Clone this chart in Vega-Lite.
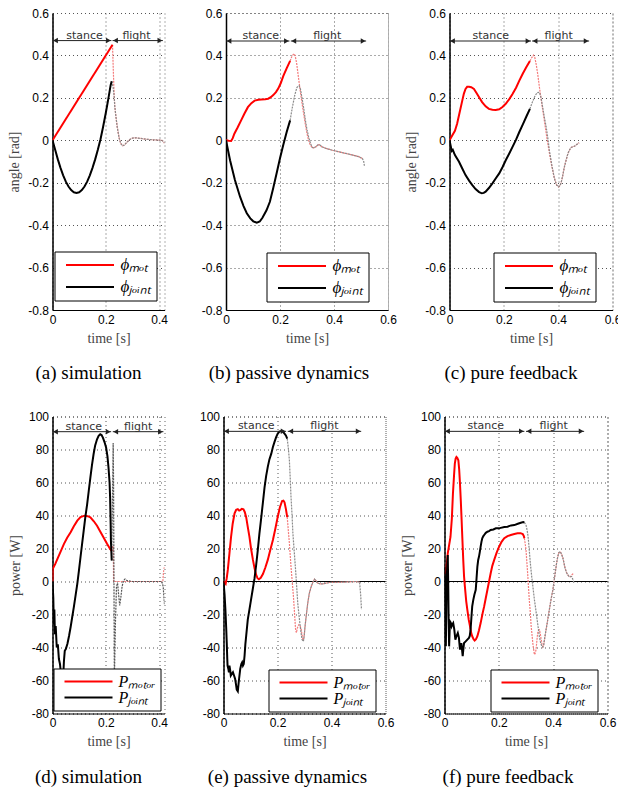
{
"$schema":"https://vega.github.io/schema/vega-lite/v6.json",
"padding":{"left":6.5,"top":6,"right":5,"bottom":5},
"config":{
 "font":"Liberation Sans",
 "view":{"stroke":"#666","strokeDash":[1,3]},
 "axis":{"labelFont":"Liberation Sans","labelFontSize":12,"labelColor":"#000","titleFont":"Liberation Serif","titleFontSize":14,"titleFontWeight":"normal","titleColor":"#444","gridDash":[1,3],"gridColor":"#555","gridOpacity":1,"ticks":false,"domainColor":"#000","labelPadding":4,"labelFlush":false,"labelOverlap":false,"labelBound":false},
 "axisY":{"domainWidth":1.5,"titlePadding":6},
 "axisX":{"titlePadding":6},
 "legend":{"strokeColor":"#000","fillColor":"#fff","padding":5,"symbolType":"M-4,0H4","symbolSize":144,"symbolStrokeWidth":2,"symbolOffset":22,"labelOffset":22,"labelFont":"Liberation Serif","labelFontStyle":"italic","labelFontSize":17,"labelColor":"#000","rowPadding":4},
 "title":{"font":"Liberation Serif","fontSize":19,"fontWeight":"normal","color":"#000","orient":"bottom","offset":19,"anchor":"middle"}
},
"datasets":{
"A1":[{"t":0,"v":0,"s":"m"},{"t":0.225,"v":0.45,"s":"m"},
{"t":0,"v":0,"s":"j"},{"t":0.01,"v":-0.045,"s":"j"},{"t":0.02,"v":-0.09,"s":"j"},{"t":0.03,"v":-0.13,"s":"j"},{"t":0.04,"v":-0.165,"s":"j"},{"t":0.05,"v":-0.195,"s":"j"},{"t":0.06,"v":-0.218,"s":"j"},{"t":0.07,"v":-0.235,"s":"j"},{"t":0.08,"v":-0.245,"s":"j"},{"t":0.09,"v":-0.248,"s":"j"},{"t":0.1,"v":-0.245,"s":"j"},{"t":0.11,"v":-0.235,"s":"j"},{"t":0.12,"v":-0.218,"s":"j"},{"t":0.13,"v":-0.195,"s":"j"},{"t":0.14,"v":-0.165,"s":"j"},{"t":0.15,"v":-0.13,"s":"j"},{"t":0.16,"v":-0.09,"s":"j"},{"t":0.17,"v":-0.045,"s":"j"},{"t":0.18,"v":0.005,"s":"j"},{"t":0.19,"v":0.065,"s":"j"},{"t":0.2,"v":0.13,"s":"j"},{"t":0.21,"v":0.2,"s":"j"},{"t":0.218,"v":0.26,"s":"j"},{"t":0.222,"v":0.278,"s":"j"}],
"A2":[{"t":0.225,"v":0.45,"g":"m"},{"t":0.228,"v":0.33,"g":"m"},{"t":0.231,"v":0.22,"g":"m"},{"t":0.2335,"v":0.16,"g":"m"},{"t":0.238,"v":0.11,"g":"m"},{"t":0.243,"v":0.06,"g":"m"},{"t":0.25,"v":0.01,"g":"m"},{"t":0.256,"v":-0.015,"g":"m"},{"t":0.263,"v":-0.026,"g":"m"},{"t":0.27,"v":-0.022,"g":"m"},{"t":0.28,"v":-0.008,"g":"m"},{"t":0.29,"v":0.004,"g":"m"},{"t":0.3,"v":0.01,"g":"m"},{"t":0.31,"v":0.012,"g":"m"},{"t":0.33,"v":0.009,"g":"m"},{"t":0.35,"v":0.005,"g":"m"},{"t":0.38,"v":0.002,"g":"m"},{"t":0.41,"v":0,"g":"m"},{"t":0.415,"v":-0.005,"g":"m"},{"t":0.42,"v":-0.013,"g":"m"},
{"t":0.222,"v":0.278,"g":"j"},{"t":0.227,"v":0.25,"g":"j"},{"t":0.231,"v":0.21,"g":"j"},{"t":0.2335,"v":0.16,"g":"j"},{"t":0.238,"v":0.11,"g":"j"},{"t":0.243,"v":0.06,"g":"j"},{"t":0.25,"v":0.01,"g":"j"},{"t":0.256,"v":-0.015,"g":"j"},{"t":0.263,"v":-0.026,"g":"j"},{"t":0.27,"v":-0.022,"g":"j"},{"t":0.28,"v":-0.008,"g":"j"},{"t":0.29,"v":0.004,"g":"j"},{"t":0.3,"v":0.01,"g":"j"},{"t":0.31,"v":0.012,"g":"j"},{"t":0.33,"v":0.009,"g":"j"},{"t":0.35,"v":0.005,"g":"j"},{"t":0.38,"v":0.002,"g":"j"},{"t":0.41,"v":0,"g":"j"},{"t":0.415,"v":-0.005,"g":"j"},{"t":0.42,"v":-0.013,"g":"j"}],
"B1":[{"t":0,"v":0,"s":"m"},{"t":0.01,"v":-0.002,"s":"m"},{"t":0.019,"v":-0.003,"s":"m"},{"t":0.025,"v":0.01,"s":"m"},{"t":0.031,"v":0.031,"s":"m"},{"t":0.043,"v":0.06,"s":"m"},{"t":0.056,"v":0.094,"s":"m"},{"t":0.068,"v":0.125,"s":"m"},{"t":0.081,"v":0.156,"s":"m"},{"t":0.094,"v":0.175,"s":"m"},{"t":0.106,"v":0.187,"s":"m"},{"t":0.12,"v":0.191,"s":"m"},{"t":0.131,"v":0.192,"s":"m"},{"t":0.145,"v":0.193,"s":"m"},{"t":0.156,"v":0.196,"s":"m"},{"t":0.166,"v":0.203,"s":"m"},{"t":0.175,"v":0.213,"s":"m"},{"t":0.185,"v":0.227,"s":"m"},{"t":0.194,"v":0.245,"s":"m"},{"t":0.203,"v":0.27,"s":"m"},{"t":0.212,"v":0.302,"s":"m"},{"t":0.225,"v":0.34,"s":"m"},{"t":0.2375,"v":0.374,"s":"m"},
{"t":0,"v":0,"s":"j"},{"t":0.015,"v":-0.094,"s":"j"},{"t":0.033,"v":-0.1875,"s":"j"},{"t":0.052,"v":-0.266,"s":"j"},{"t":0.065,"v":-0.31,"s":"j"},{"t":0.077,"v":-0.344,"s":"j"},{"t":0.09,"v":-0.368,"s":"j"},{"t":0.101,"v":-0.382,"s":"j"},{"t":0.114,"v":-0.388,"s":"j"},{"t":0.125,"v":-0.383,"s":"j"},{"t":0.135,"v":-0.365,"s":"j"},{"t":0.15,"v":-0.33,"s":"j"},{"t":0.1625,"v":-0.29,"s":"j"},{"t":0.175,"v":-0.225,"s":"j"},{"t":0.1875,"v":-0.155,"s":"j"},{"t":0.2,"v":-0.085,"s":"j"},{"t":0.2125,"v":-0.02,"s":"j"},{"t":0.225,"v":0.04,"s":"j"},{"t":0.2375,"v":0.094,"s":"j"}],
"B2":[{"t":0.2375,"v":0.374,"g":"m"},{"t":0.244,"v":0.395,"g":"m"},{"t":0.251,"v":0.408,"g":"m"},{"t":0.256,"v":0.4,"g":"m"},{"t":0.262,"v":0.36,"g":"m"},{"t":0.268,"v":0.3,"g":"m"},{"t":0.275,"v":0.234,"g":"m"},{"t":0.281,"v":0.18,"g":"m"},{"t":0.2875,"v":0.125,"g":"m"},{"t":0.294,"v":0.075,"g":"m"},{"t":0.3,"v":0.031,"g":"m"},{"t":0.306,"v":0,"g":"m"},{"t":0.3125,"v":-0.023,"g":"m"},{"t":0.319,"v":-0.033,"g":"m"},{"t":0.325,"v":-0.036,"g":"m"},{"t":0.333,"v":-0.03,"g":"m"},{"t":0.34,"v":-0.022,"g":"m"},{"t":0.347,"v":-0.022,"g":"m"},{"t":0.356,"v":-0.031,"g":"m"},{"t":0.37,"v":-0.038,"g":"m"},{"t":0.394,"v":-0.047,"g":"m"},{"t":0.42,"v":-0.055,"g":"m"},{"t":0.444,"v":-0.062,"g":"m"},{"t":0.47,"v":-0.07,"g":"m"},{"t":0.494,"v":-0.078,"g":"m"},{"t":0.506,"v":-0.086,"g":"m"},
{"t":0.2375,"v":0.094,"g":"j"},{"t":0.245,"v":0.15,"g":"j"},{"t":0.255,"v":0.215,"g":"j"},{"t":0.263,"v":0.25,"g":"j"},{"t":0.271,"v":0.257,"g":"j"},{"t":0.276,"v":0.24,"g":"j"},{"t":0.281,"v":0.203,"g":"j"},{"t":0.288,"v":0.15,"g":"j"},{"t":0.294,"v":0.094,"g":"j"},{"t":0.3,"v":0.05,"g":"j"},{"t":0.306,"v":0.016,"g":"j"},{"t":0.312,"v":-0.012,"g":"j"},{"t":0.319,"v":-0.033,"g":"j"},{"t":0.325,"v":-0.036,"g":"j"},{"t":0.333,"v":-0.03,"g":"j"},{"t":0.34,"v":-0.022,"g":"j"},{"t":0.347,"v":-0.022,"g":"j"},{"t":0.356,"v":-0.031,"g":"j"},{"t":0.37,"v":-0.038,"g":"j"},{"t":0.394,"v":-0.047,"g":"j"},{"t":0.42,"v":-0.055,"g":"j"},{"t":0.444,"v":-0.062,"g":"j"},{"t":0.47,"v":-0.07,"g":"j"},{"t":0.494,"v":-0.078,"g":"j"},{"t":0.506,"v":-0.088,"g":"j"},{"t":0.51,"v":-0.1,"g":"j"},{"t":0.5125,"v":-0.12,"g":"j"}],
"C1":[{"t":0,"v":0,"s":"m"},{"t":0.01,"v":0.023,"s":"m"},{"t":0.02,"v":0.045,"s":"m"},{"t":0.028,"v":0.078,"s":"m"},{"t":0.037,"v":0.13,"s":"m"},{"t":0.047,"v":0.187,"s":"m"},{"t":0.053,"v":0.22,"s":"m"},{"t":0.059,"v":0.242,"s":"m"},{"t":0.065,"v":0.252,"s":"m"},{"t":0.072,"v":0.252,"s":"m"},{"t":0.08,"v":0.25,"s":"m"},{"t":0.09,"v":0.242,"s":"m"},{"t":0.1,"v":0.222,"s":"m"},{"t":0.109,"v":0.203,"s":"m"},{"t":0.12,"v":0.18,"s":"m"},{"t":0.133,"v":0.16,"s":"m"},{"t":0.145,"v":0.148,"s":"m"},{"t":0.158,"v":0.144,"s":"m"},{"t":0.17,"v":0.143,"s":"m"},{"t":0.183,"v":0.146,"s":"m"},{"t":0.195,"v":0.157,"s":"m"},{"t":0.207,"v":0.172,"s":"m"},{"t":0.22,"v":0.194,"s":"m"},{"t":0.232,"v":0.218,"s":"m"},{"t":0.245,"v":0.248,"s":"m"},{"t":0.257,"v":0.281,"s":"m"},{"t":0.27,"v":0.315,"s":"m"},{"t":0.283,"v":0.345,"s":"m"},{"t":0.296,"v":0.374,"s":"m"},
{"t":0,"v":0,"s":"j"},{"t":0.005,"v":-0.03,"s":"j"},{"t":0.008,"v":-0.05,"s":"j"},{"t":0.012,"v":-0.045,"s":"j"},{"t":0.02,"v":-0.07,"s":"j"},{"t":0.035,"v":-0.101,"s":"j"},{"t":0.047,"v":-0.133,"s":"j"},{"t":0.059,"v":-0.164,"s":"j"},{"t":0.072,"v":-0.19,"s":"j"},{"t":0.084,"v":-0.211,"s":"j"},{"t":0.096,"v":-0.23,"s":"j"},{"t":0.109,"v":-0.244,"s":"j"},{"t":0.119,"v":-0.25,"s":"j"},{"t":0.126,"v":-0.248,"s":"j"},{"t":0.133,"v":-0.242,"s":"j"},{"t":0.145,"v":-0.225,"s":"j"},{"t":0.158,"v":-0.203,"s":"j"},{"t":0.17,"v":-0.18,"s":"j"},{"t":0.183,"v":-0.156,"s":"j"},{"t":0.195,"v":-0.127,"s":"j"},{"t":0.207,"v":-0.094,"s":"j"},{"t":0.22,"v":-0.062,"s":"j"},{"t":0.232,"v":-0.031,"s":"j"},{"t":0.245,"v":0.003,"s":"j"},{"t":0.257,"v":0.039,"s":"j"},{"t":0.27,"v":0.075,"s":"j"},{"t":0.283,"v":0.112,"s":"j"},{"t":0.296,"v":0.148,"s":"j"}],
"C2":[{"t":0.296,"v":0.374,"g":"m"},{"t":0.303,"v":0.39,"g":"m"},{"t":0.309,"v":0.401,"g":"m"},{"t":0.314,"v":0.39,"g":"m"},{"t":0.319,"v":0.359,"g":"m"},{"t":0.325,"v":0.31,"g":"m"},{"t":0.331,"v":0.25,"g":"m"},{"t":0.34,"v":0.17,"g":"m"},{"t":0.349,"v":0.094,"g":"m"},{"t":0.358,"v":0.015,"g":"m"},{"t":0.368,"v":-0.062,"g":"m"},{"t":0.377,"v":-0.125,"g":"m"},{"t":0.386,"v":-0.179,"g":"m"},{"t":0.394,"v":-0.21,"g":"m"},{"t":0.402,"v":-0.22,"g":"m"},{"t":0.407,"v":-0.213,"g":"m"},{"t":0.411,"v":-0.2,"g":"m"},{"t":0.417,"v":-0.165,"g":"m"},{"t":0.423,"v":-0.125,"g":"m"},{"t":0.43,"v":-0.09,"g":"m"},{"t":0.436,"v":-0.062,"g":"m"},{"t":0.442,"v":-0.045,"g":"m"},{"t":0.448,"v":-0.034,"g":"m"},{"t":0.454,"v":-0.03,"g":"m"},{"t":0.46,"v":-0.028,"g":"m"},{"t":0.468,"v":-0.02,"g":"m"},{"t":0.477,"v":-0.012,"g":"m"},
{"t":0.296,"v":0.148,"g":"j"},{"t":0.305,"v":0.18,"g":"j"},{"t":0.315,"v":0.21,"g":"j"},{"t":0.323,"v":0.225,"g":"j"},{"t":0.331,"v":0.226,"g":"j"},{"t":0.337,"v":0.2,"g":"j"},{"t":0.343,"v":0.156,"g":"j"},{"t":0.349,"v":0.11,"g":"j"},{"t":0.356,"v":0.062,"g":"j"},{"t":0.362,"v":0.01,"g":"j"},{"t":0.368,"v":-0.05,"g":"j"},{"t":0.377,"v":-0.12,"g":"j"},{"t":0.386,"v":-0.179,"g":"j"},{"t":0.394,"v":-0.21,"g":"j"},{"t":0.402,"v":-0.22,"g":"j"},{"t":0.407,"v":-0.213,"g":"j"},{"t":0.411,"v":-0.2,"g":"j"},{"t":0.417,"v":-0.165,"g":"j"},{"t":0.423,"v":-0.125,"g":"j"},{"t":0.43,"v":-0.09,"g":"j"},{"t":0.436,"v":-0.062,"g":"j"},{"t":0.442,"v":-0.045,"g":"j"},{"t":0.448,"v":-0.034,"g":"j"},{"t":0.454,"v":-0.03,"g":"j"},{"t":0.46,"v":-0.028,"g":"j"},{"t":0.468,"v":-0.02,"g":"j"},{"t":0.477,"v":-0.012,"g":"j"}],
"D1":[{"t":0,"v":0,"s":"m"},{"t":0.001,"v":7.7,"s":"m"},{"t":0.01,"v":10.5,"s":"m"},{"t":0.0185,"v":13.7,"s":"m"},{"t":0.03,"v":18,"s":"m"},{"t":0.043,"v":22.8,"s":"m"},{"t":0.055,"v":26.5,"s":"m"},{"t":0.068,"v":29.8,"s":"m"},{"t":0.08,"v":33.5,"s":"m"},{"t":0.093,"v":36.9,"s":"m"},{"t":0.105,"v":39,"s":"m"},{"t":0.12,"v":39.9,"s":"m"},{"t":0.132,"v":39.6,"s":"m"},{"t":0.142,"v":38.9,"s":"m"},{"t":0.155,"v":36.5,"s":"m"},{"t":0.167,"v":33.8,"s":"m"},{"t":0.18,"v":30,"s":"m"},{"t":0.191,"v":26.8,"s":"m"},{"t":0.204,"v":23,"s":"m"},{"t":0.216,"v":19.7,"s":"m"},{"t":0.222,"v":18.5,"s":"m"},
{"t":0,"v":0,"s":"j"},{"t":0.003,"v":-10,"s":"j"},{"t":0.005,"v":-26,"s":"j"},{"t":0.007,"v":-17,"s":"j"},{"t":0.009,"v":-32,"s":"j"},{"t":0.012,"v":-27,"s":"j"},{"t":0.016,"v":-40,"s":"j"},{"t":0.02,"v":-38,"s":"j"},{"t":0.024,"v":-47,"s":"j"},{"t":0.028,"v":-50,"s":"j"},{"t":0.032,"v":-56,"s":"j"},{"t":0.036,"v":-62,"s":"j"},{"t":0.04,"v":-58,"s":"j"},{"t":0.043,"v":-48,"s":"j"},{"t":0.046,"v":-42,"s":"j"},{"t":0.05,"v":-41,"s":"j"},{"t":0.056,"v":-37.7,"s":"j"},{"t":0.062,"v":-33,"s":"j"},{"t":0.068,"v":-27.6,"s":"j"},{"t":0.074,"v":-21.5,"s":"j"},{"t":0.08,"v":-15.5,"s":"j"},{"t":0.087,"v":-8,"s":"j"},{"t":0.093,"v":-1.4,"s":"j"},{"t":0.099,"v":6.5,"s":"j"},{"t":0.105,"v":14.7,"s":"j"},{"t":0.111,"v":22.8,"s":"j"},{"t":0.117,"v":30.8,"s":"j"},{"t":0.123,"v":38.9,"s":"j"},{"t":0.13,"v":46.9,"s":"j"},{"t":0.136,"v":55,"s":"j"},{"t":0.142,"v":63,"s":"j"},{"t":0.148,"v":70.5,"s":"j"},{"t":0.154,"v":77.1,"s":"j"},{"t":0.16,"v":82.5,"s":"j"},{"t":0.167,"v":86.2,"s":"j"},{"t":0.173,"v":88.3,"s":"j"},{"t":0.179,"v":89.2,"s":"j"},{"t":0.184,"v":88.8,"s":"j"},{"t":0.189,"v":87.2,"s":"j"},{"t":0.195,"v":84.5,"s":"j"},{"t":0.201,"v":81.2,"s":"j"},{"t":0.206,"v":76,"s":"j"},{"t":0.21,"v":69.1,"s":"j"},{"t":0.214,"v":60,"s":"j"},{"t":0.216,"v":51,"s":"j"},{"t":0.218,"v":35,"s":"j"},{"t":0.219,"v":24.8,"s":"j"},{"t":0.222,"v":12.7,"s":"j"}],
"D2":[{"t":0.222,"v":18.5,"g":"m"},{"t":0.225,"v":21,"g":"m"},{"t":0.228,"v":21.5,"g":"m"},{"t":0.229,"v":0,"g":"m"},{"t":0.3,"v":0,"g":"m"},{"t":0.41,"v":0,"g":"m"},{"t":0.414,"v":0.5,"g":"m"},{"t":0.416,"v":5,"g":"m"},{"t":0.42,"v":9,"g":"m"},
{"t":0.222,"v":12.7,"g":"j"},{"t":0.2275,"v":84,"g":"j"},{"t":0.229,"v":60,"g":"j"},{"t":0.2305,"v":0,"g":"j"},{"t":0.232,"v":-60,"g":"j"},{"t":0.236,"v":-25,"g":"j"},{"t":0.24,"v":-3,"g":"j"},{"t":0.244,"v":-1,"g":"j"},{"t":0.248,"v":-8,"g":"j"},{"t":0.252,"v":-14.5,"g":"j"},{"t":0.256,"v":-10,"g":"j"},{"t":0.261,"v":-3,"g":"j"},{"t":0.266,"v":0.5,"g":"j"},{"t":0.272,"v":1.5,"g":"j"},{"t":0.28,"v":0.5,"g":"j"},{"t":0.3,"v":0,"g":"j"},{"t":0.41,"v":0,"g":"j"},{"t":0.415,"v":-3,"g":"j"},{"t":0.42,"v":-14,"g":"j"}],
"E1":[{"t":0,"v":0,"s":"m"},{"t":0.004,"v":-0.5,"s":"m"},{"t":0.008,"v":-1.4,"s":"m"},{"t":0.012,"v":2,"s":"m"},{"t":0.016,"v":7,"s":"m"},{"t":0.022,"v":17,"s":"m"},{"t":0.028,"v":27,"s":"m"},{"t":0.034,"v":35,"s":"m"},{"t":0.041,"v":41.3,"s":"m"},{"t":0.047,"v":43.5,"s":"m"},{"t":0.053,"v":43.9,"s":"m"},{"t":0.058,"v":43,"s":"m"},{"t":0.062,"v":43.3,"s":"m"},{"t":0.068,"v":44,"s":"m"},{"t":0.074,"v":43.7,"s":"m"},{"t":0.079,"v":42,"s":"m"},{"t":0.084,"v":39,"s":"m"},{"t":0.09,"v":33,"s":"m"},{"t":0.096,"v":27.2,"s":"m"},{"t":0.102,"v":20,"s":"m"},{"t":0.109,"v":13.1,"s":"m"},{"t":0.115,"v":8,"s":"m"},{"t":0.121,"v":4,"s":"m"},{"t":0.126,"v":2,"s":"m"},{"t":0.131,"v":1.4,"s":"m"},{"t":0.138,"v":2.3,"s":"m"},{"t":0.146,"v":4.5,"s":"m"},{"t":0.155,"v":8.5,"s":"m"},{"t":0.164,"v":13.1,"s":"m"},{"t":0.173,"v":19,"s":"m"},{"t":0.183,"v":25.2,"s":"m"},{"t":0.192,"v":32,"s":"m"},{"t":0.201,"v":39.3,"s":"m"},{"t":0.209,"v":45,"s":"m"},{"t":0.217,"v":48.8,"s":"m"},{"t":0.222,"v":49,"s":"m"},{"t":0.226,"v":48,"s":"m"},{"t":0.231,"v":44,"s":"m"},{"t":0.236,"v":39,"s":"m"},
{"t":0,"v":0,"s":"j"},{"t":0.004,"v":-8,"s":"j"},{"t":0.007,"v":-17,"s":"j"},{"t":0.01,"v":-28,"s":"j"},{"t":0.012,"v":-37,"s":"j"},{"t":0.014,"v":-47,"s":"j"},{"t":0.015,"v":-51,"s":"j"},{"t":0.018,"v":-53,"s":"j"},{"t":0.02,"v":-55,"s":"j"},{"t":0.022,"v":-51,"s":"j"},{"t":0.025,"v":-54,"s":"j"},{"t":0.027,"v":-57,"s":"j"},{"t":0.031,"v":-56,"s":"j"},{"t":0.035,"v":-55,"s":"j"},{"t":0.039,"v":-57,"s":"j"},{"t":0.043,"v":-59,"s":"j"},{"t":0.046,"v":-62,"s":"j"},{"t":0.049,"v":-65.5,"s":"j"},{"t":0.053,"v":-66.5,"s":"j"},{"t":0.057,"v":-60,"s":"j"},{"t":0.062,"v":-53,"s":"j"},{"t":0.066,"v":-50,"s":"j"},{"t":0.069,"v":-49,"s":"j"},{"t":0.072,"v":-51,"s":"j"},{"t":0.075,"v":-50,"s":"j"},{"t":0.078,"v":-45,"s":"j"},{"t":0.081,"v":-38,"s":"j"},{"t":0.084,"v":-33,"s":"j"},{"t":0.09,"v":-23,"s":"j"},{"t":0.096,"v":-17,"s":"j"},{"t":0.102,"v":-11,"s":"j"},{"t":0.108,"v":-5,"s":"j"},{"t":0.115,"v":2,"s":"j"},{"t":0.121,"v":10,"s":"j"},{"t":0.127,"v":19,"s":"j"},{"t":0.133,"v":29,"s":"j"},{"t":0.14,"v":39,"s":"j"},{"t":0.146,"v":48,"s":"j"},{"t":0.152,"v":57,"s":"j"},{"t":0.158,"v":64,"s":"j"},{"t":0.164,"v":69.5,"s":"j"},{"t":0.17,"v":74,"s":"j"},{"t":0.177,"v":77.5,"s":"j"},{"t":0.183,"v":81.5,"s":"j"},{"t":0.189,"v":84.6,"s":"j"},{"t":0.195,"v":87.5,"s":"j"},{"t":0.201,"v":89.6,"s":"j"},{"t":0.207,"v":90.8,"s":"j"},{"t":0.214,"v":91.2,"s":"j"},{"t":0.22,"v":90.8,"s":"j"},{"t":0.226,"v":89.6,"s":"j"},{"t":0.231,"v":88.5,"s":"j"},{"t":0.236,"v":86.6,"s":"j"}],
"E2":[{"t":0.236,"v":39,"g":"m"},{"t":0.24,"v":31,"g":"m"},{"t":0.244,"v":23.2,"g":"m"},{"t":0.25,"v":9,"g":"m"},{"t":0.255,"v":-1,"g":"m"},{"t":0.259,"v":-9,"g":"m"},{"t":0.263,"v":-19,"g":"m"},{"t":0.267,"v":-29.2,"g":"m"},{"t":0.27,"v":-31,"g":"m"},{"t":0.274,"v":-28,"g":"m"},{"t":0.279,"v":-26.2,"g":"m"},{"t":0.284,"v":-27,"g":"m"},{"t":0.288,"v":-29.2,"g":"m"},{"t":0.292,"v":-33.5,"g":"m"},{"t":0.295,"v":-35.5,"g":"m"},{"t":0.298,"v":-34,"g":"m"},{"t":0.302,"v":-27.2,"g":"m"},{"t":0.307,"v":-20,"g":"m"},{"t":0.312,"v":-13.1,"g":"m"},{"t":0.318,"v":-7,"g":"m"},{"t":0.325,"v":-3,"g":"m"},{"t":0.331,"v":-0.5,"g":"m"},{"t":0.337,"v":1.4,"g":"m"},{"t":0.343,"v":0.5,"g":"m"},{"t":0.349,"v":-1,"g":"m"},{"t":0.36,"v":-1.5,"g":"m"},{"t":0.368,"v":-1.4,"g":"m"},{"t":0.393,"v":-0.6,"g":"m"},{"t":0.44,"v":-0.4,"g":"m"},{"t":0.49,"v":0,"g":"m"},{"t":0.504,"v":-0.4,"g":"m"},
{"t":0.236,"v":86.6,"g":"j"},{"t":0.24,"v":81,"g":"j"},{"t":0.244,"v":73.5,"g":"j"},{"t":0.247,"v":63,"g":"j"},{"t":0.25,"v":51.4,"g":"j"},{"t":0.254,"v":40,"g":"j"},{"t":0.257,"v":29.2,"g":"j"},{"t":0.262,"v":18,"g":"j"},{"t":0.267,"v":7,"g":"j"},{"t":0.271,"v":-3,"g":"j"},{"t":0.275,"v":-13.1,"g":"j"},{"t":0.28,"v":-21,"g":"j"},{"t":0.284,"v":-27.2,"g":"j"},{"t":0.288,"v":-32,"g":"j"},{"t":0.291,"v":-35.2,"g":"j"},{"t":0.296,"v":-36.3,"g":"j"},{"t":0.299,"v":-33,"g":"j"},{"t":0.302,"v":-27.2,"g":"j"},{"t":0.307,"v":-20,"g":"j"},{"t":0.312,"v":-13.1,"g":"j"},{"t":0.318,"v":-7,"g":"j"},{"t":0.325,"v":-3,"g":"j"},{"t":0.331,"v":-0.5,"g":"j"},{"t":0.337,"v":1.4,"g":"j"},{"t":0.343,"v":0.5,"g":"j"},{"t":0.349,"v":-1,"g":"j"},{"t":0.36,"v":-1.5,"g":"j"},{"t":0.368,"v":-1.4,"g":"j"},{"t":0.393,"v":-0.6,"g":"j"},{"t":0.44,"v":-0.4,"g":"j"},{"t":0.49,"v":0,"g":"j"},{"t":0.504,"v":-0.4,"g":"j"},{"t":0.508,"v":-8,"g":"j"},{"t":0.511,"v":-17,"g":"j"}],
"F1":[{"t":0,"v":5,"s":"m"},{"t":0.004,"v":5,"s":"m"},{"t":0.008,"v":10,"s":"m"},{"t":0.012,"v":17,"s":"m"},{"t":0.017,"v":22,"s":"m"},{"t":0.022,"v":27,"s":"m"},{"t":0.027,"v":38,"s":"m"},{"t":0.031,"v":53,"s":"m"},{"t":0.035,"v":64,"s":"m"},{"t":0.038,"v":71.5,"s":"m"},{"t":0.041,"v":74.5,"s":"m"},{"t":0.044,"v":75.5,"s":"m"},{"t":0.047,"v":75,"s":"m"},{"t":0.051,"v":73.5,"s":"m"},{"t":0.054,"v":68,"s":"m"},{"t":0.057,"v":59.4,"s":"m"},{"t":0.06,"v":49,"s":"m"},{"t":0.063,"v":37.3,"s":"m"},{"t":0.066,"v":25,"s":"m"},{"t":0.069,"v":13.1,"s":"m"},{"t":0.072,"v":3,"s":"m"},{"t":0.075,"v":-3,"s":"m"},{"t":0.08,"v":-12,"s":"m"},{"t":0.084,"v":-17,"s":"m"},{"t":0.089,"v":-23,"s":"m"},{"t":0.094,"v":-27.2,"s":"m"},{"t":0.098,"v":-31,"s":"m"},{"t":0.102,"v":-33.2,"s":"m"},{"t":0.107,"v":-35,"s":"m"},{"t":0.111,"v":-35.8,"s":"m"},{"t":0.116,"v":-35,"s":"m"},{"t":0.121,"v":-33.2,"s":"m"},{"t":0.127,"v":-29.5,"s":"m"},{"t":0.133,"v":-25.2,"s":"m"},{"t":0.14,"v":-19.5,"s":"m"},{"t":0.146,"v":-15.1,"s":"m"},{"t":0.152,"v":-10,"s":"m"},{"t":0.158,"v":-5,"s":"m"},{"t":0.164,"v":0,"s":"m"},{"t":0.17,"v":5,"s":"m"},{"t":0.176,"v":9.5,"s":"m"},{"t":0.183,"v":13.1,"s":"m"},{"t":0.192,"v":17.5,"s":"m"},{"t":0.201,"v":21.1,"s":"m"},{"t":0.21,"v":24,"s":"m"},{"t":0.22,"v":26.2,"s":"m"},{"t":0.232,"v":27.5,"s":"m"},{"t":0.244,"v":28.2,"s":"m"},{"t":0.257,"v":28.8,"s":"m"},{"t":0.269,"v":29.2,"s":"m"},{"t":0.28,"v":29.3,"s":"m"},{"t":0.288,"v":28.8,"s":"m"},{"t":0.292,"v":27.5,"s":"m"},{"t":0.294,"v":26.2,"s":"m"},
{"t":0,"v":9,"s":"j"},{"t":0.002,"v":-3,"s":"j"},{"t":0.004,"v":-30,"s":"j"},{"t":0.005,"v":-39.3,"s":"j"},{"t":0.007,"v":-10,"s":"j"},{"t":0.009,"v":5,"s":"j"},{"t":0.012,"v":16.1,"s":"j"},{"t":0.014,"v":-5,"s":"j"},{"t":0.015,"v":-21,"s":"j"},{"t":0.017,"v":-39.3,"s":"j"},{"t":0.02,"v":-24.2,"s":"j"},{"t":0.023,"v":-25,"s":"j"},{"t":0.026,"v":-27.2,"s":"j"},{"t":0.029,"v":-26,"s":"j"},{"t":0.032,"v":-25.2,"s":"j"},{"t":0.036,"v":-29,"s":"j"},{"t":0.04,"v":-35.2,"s":"j"},{"t":0.044,"v":-33.2,"s":"j"},{"t":0.049,"v":-31.2,"s":"j"},{"t":0.053,"v":-34,"s":"j"},{"t":0.057,"v":-41.3,"s":"j"},{"t":0.06,"v":-39,"s":"j"},{"t":0.062,"v":-37.3,"s":"j"},{"t":0.065,"v":-42,"s":"j"},{"t":0.067,"v":-45.3,"s":"j"},{"t":0.07,"v":-40,"s":"j"},{"t":0.072,"v":-37.3,"s":"j"},{"t":0.078,"v":-36.3,"s":"j"},{"t":0.084,"v":-35.2,"s":"j"},{"t":0.09,"v":-34.2,"s":"j"},{"t":0.093,"v":-33,"s":"j"},{"t":0.096,"v":-29.2,"s":"j"},{"t":0.099,"v":-22,"s":"j"},{"t":0.102,"v":-15.1,"s":"j"},{"t":0.106,"v":-11.1,"s":"j"},{"t":0.11,"v":-8,"s":"j"},{"t":0.115,"v":-5,"s":"j"},{"t":0.118,"v":2,"s":"j"},{"t":0.121,"v":9,"s":"j"},{"t":0.124,"v":13,"s":"j"},{"t":0.127,"v":15.1,"s":"j"},{"t":0.13,"v":18,"s":"j"},{"t":0.133,"v":21.1,"s":"j"},{"t":0.136,"v":24,"s":"j"},{"t":0.139,"v":26.2,"s":"j"},{"t":0.143,"v":27.5,"s":"j"},{"t":0.146,"v":28.2,"s":"j"},{"t":0.152,"v":29.5,"s":"j"},{"t":0.158,"v":30.2,"s":"j"},{"t":0.164,"v":30.5,"s":"j"},{"t":0.17,"v":31.2,"s":"j"},{"t":0.18,"v":31.5,"s":"j"},{"t":0.189,"v":32.2,"s":"j"},{"t":0.2,"v":32.2,"s":"j"},{"t":0.207,"v":32.5,"s":"j"},{"t":0.22,"v":33,"s":"j"},{"t":0.232,"v":33.2,"s":"j"},{"t":0.245,"v":34,"s":"j"},{"t":0.257,"v":34.2,"s":"j"},{"t":0.27,"v":35,"s":"j"},{"t":0.281,"v":35.6,"s":"j"},{"t":0.29,"v":36,"s":"j"},{"t":0.294,"v":35.8,"s":"j"}],
"F2":[{"t":0.294,"v":26.2,"g":"m"},{"t":0.297,"v":23,"g":"m"},{"t":0.3,"v":19.1,"g":"m"},{"t":0.303,"v":12,"g":"m"},{"t":0.306,"v":5,"g":"m"},{"t":0.309,"v":-3,"g":"m"},{"t":0.312,"v":-11,"g":"m"},{"t":0.316,"v":-19,"g":"m"},{"t":0.319,"v":-27.2,"g":"m"},{"t":0.322,"v":-32,"g":"m"},{"t":0.325,"v":-37.3,"g":"m"},{"t":0.328,"v":-41,"g":"m"},{"t":0.331,"v":-44.3,"g":"m"},{"t":0.334,"v":-43.5,"g":"m"},{"t":0.337,"v":-41.3,"g":"m"},{"t":0.34,"v":-36,"g":"m"},{"t":0.343,"v":-31.2,"g":"m"},{"t":0.346,"v":-29.5,"g":"m"},{"t":0.349,"v":-29.2,"g":"m"},{"t":0.352,"v":-31,"g":"m"},{"t":0.356,"v":-35.2,"g":"m"},{"t":0.359,"v":-38,"g":"m"},{"t":0.362,"v":-39.7,"g":"m"},{"t":0.365,"v":-38.5,"g":"m"},{"t":0.368,"v":-35.2,"g":"m"},{"t":0.373,"v":-30,"g":"m"},{"t":0.378,"v":-25.2,"g":"m"},{"t":0.382,"v":-21,"g":"m"},{"t":0.386,"v":-17.1,"g":"m"},{"t":0.392,"v":-11,"g":"m"},{"t":0.399,"v":-5,"g":"m"},{"t":0.404,"v":1,"g":"m"},{"t":0.409,"v":7,"g":"m"},{"t":0.413,"v":11.5,"g":"m"},{"t":0.417,"v":15.1,"g":"m"},{"t":0.421,"v":17.5,"g":"m"},{"t":0.426,"v":18.1,"g":"m"},{"t":0.431,"v":16.5,"g":"m"},{"t":0.436,"v":14.1,"g":"m"},{"t":0.44,"v":11,"g":"m"},{"t":0.444,"v":8,"g":"m"},{"t":0.449,"v":5.5,"g":"m"},{"t":0.454,"v":4,"g":"m"},{"t":0.459,"v":3,"g":"m"},{"t":0.464,"v":3,"g":"m"},{"t":0.468,"v":4,"g":"m"},{"t":0.472,"v":4.5,"g":"m"},{"t":0.477,"v":5,"g":"m"},
{"t":0.294,"v":35.8,"g":"j"},{"t":0.297,"v":35,"g":"j"},{"t":0.3,"v":34.2,"g":"j"},{"t":0.303,"v":32,"g":"j"},{"t":0.306,"v":29.2,"g":"j"},{"t":0.309,"v":25,"g":"j"},{"t":0.312,"v":19.1,"g":"j"},{"t":0.316,"v":11,"g":"j"},{"t":0.321,"v":3,"g":"j"},{"t":0.326,"v":-4,"g":"j"},{"t":0.331,"v":-11.1,"g":"j"},{"t":0.336,"v":-17,"g":"j"},{"t":0.341,"v":-23.2,"g":"j"},{"t":0.345,"v":-28,"g":"j"},{"t":0.349,"v":-33.2,"g":"j"},{"t":0.353,"v":-36.5,"g":"j"},{"t":0.358,"v":-39.3,"g":"j"},{"t":0.362,"v":-39.7,"g":"j"},{"t":0.365,"v":-38.5,"g":"j"},{"t":0.368,"v":-35.2,"g":"j"},{"t":0.373,"v":-30,"g":"j"},{"t":0.378,"v":-25.2,"g":"j"},{"t":0.382,"v":-21,"g":"j"},{"t":0.386,"v":-17.1,"g":"j"},{"t":0.392,"v":-11,"g":"j"},{"t":0.399,"v":-5,"g":"j"},{"t":0.404,"v":1,"g":"j"},{"t":0.409,"v":7,"g":"j"},{"t":0.413,"v":11.5,"g":"j"},{"t":0.417,"v":15.1,"g":"j"},{"t":0.421,"v":17.5,"g":"j"},{"t":0.426,"v":18.1,"g":"j"},{"t":0.431,"v":16.5,"g":"j"},{"t":0.436,"v":14.1,"g":"j"},{"t":0.44,"v":11,"g":"j"},{"t":0.444,"v":8,"g":"j"},{"t":0.449,"v":5.5,"g":"j"},{"t":0.454,"v":4,"g":"j"},{"t":0.459,"v":3,"g":"j"},{"t":0.464,"v":3,"g":"j"},{"t":0.468,"v":3,"g":"j"},{"t":0.472,"v":1.5,"g":"j"},{"t":0.477,"v":-1,"g":"j"}],
"arrA":[{"a":0,"b":0.221,"y":0.47,"m":0.12,"n":"stance"},{"a":0.225,"b":0.414,"y":0.47,"m":0.315,"n":"flight"}],
"arrB":[{"a":0,"b":0.235,"y":0.468,"m":0.129,"n":"stance"},{"a":0.24,"b":0.519,"y":0.468,"m":0.375,"n":"flight"}],
"arrC":[{"a":0,"b":0.3,"y":0.468,"m":0.152,"n":"stance"},{"a":0.304,"b":0.514,"y":0.468,"m":0.402,"n":"flight"}],
"arrD":[{"a":0,"b":0.22,"y":90.8,"m":0.117,"n":"stance"},{"a":0.226,"b":0.416,"y":90.8,"m":0.321,"n":"flight"}],
"arrE":[{"a":0,"b":0.232,"y":91,"m":0.121,"n":"stance"},{"a":0.238,"b":0.51,"y":91,"m":0.374,"n":"flight"}],
"arrF":[{"a":0,"b":0.294,"y":91,"m":0.152,"n":"stance"},{"a":0.3,"b":0.514,"y":91,"m":0.402,"n":"flight"}],
"zero":[{"z":0}]
},
"bounds":"flush",
"spacing":403.5,
"resolve":{"scale":{"color":"independent","stroke":"independent"},"legend":{"color":"independent","stroke":"independent"}},
"vconcat":[
{"hconcat":[
 {"width":112,"height":297,"title":{"text":"(a) simulation","dx":-20},
  "layer":[
   {"data":{"name":"A2"},"mark":{"type":"line","strokeWidth":1.2,"strokeDash":[2,1],"clip":true},
    "encoding":{"x":{"field":"t","type":"quantitative","title":"time [s]","scale":{"domain":[0,0.42],"nice":false},"axis":{"values":[0,0.2,0.4],"labelExpr":"'' + datum.value"}},
     "y":{"field":"v","type":"quantitative","title":"angle [rad]","scale":{"domain":[-0.8,0.6],"nice":false},"axis":{"values":[-0.8,-0.6,-0.4,-0.2,0,0.2,0.4,0.6],"tickCount":12,"labelExpr":"'' + round(datum.value*10)/10"}},
     "stroke":{"field":"g","type":"nominal","scale":{"domain":["j","m"],"range":["#8a8a8a","#f47c7c"]},"legend":null}}},
   {"data":{"name":"A1"},"mark":{"type":"line","strokeWidth":2,"clip":true},
    "encoding":{"x":{"field":"t","type":"quantitative","title":"time [s]"},"y":{"field":"v","type":"quantitative","title":"angle [rad]"},
     "color":{"field":"s","type":"nominal","scale":{"domain":["m","j"],"range":["#ff0000","#000000"]},"legend":{"title":null,"orient":"none","legendX":2,"legendY":238.5,"labelExpr":"datum.label == 'm' ? '\u03d5\u2098\u2092\u209c' : '\u03d5\u2c7c\u2092\u1d62\u2099\u209c'"}}}},
   {"data":{"name":"arrA"},"mark":{"type":"rule","color":"#222","strokeWidth":1},"encoding":{"x":{"field":"a","type":"quantitative","title":"time [s]"},"x2":{"field":"b"},"y":{"field":"y","type":"quantitative","title":"angle [rad]"}}},
   {"data":{"name":"arrA"},"mark":{"type":"point","shape":"triangle-left","filled":true,"color":"#222","size":30,"opacity":1,"xOffset":3},"encoding":{"x":{"field":"a","type":"quantitative","title":"time [s]"},"y":{"field":"y","type":"quantitative","title":"angle [rad]"}}},
   {"data":{"name":"arrA"},"mark":{"type":"point","shape":"triangle-right","filled":true,"color":"#222","size":30,"opacity":1,"xOffset":-3},"encoding":{"x":{"field":"b","type":"quantitative","title":"time [s]"},"y":{"field":"y","type":"quantitative","title":"angle [rad]"}}},
   {"data":{"name":"arrA"},"mark":{"type":"text","font":"DejaVu Sans","fontSize":11,"color":"#333","baseline":"alphabetic","dy":-2},"encoding":{"x":{"field":"m","type":"quantitative","title":"time [s]"},"y":{"field":"y","type":"quantitative","title":"angle [rad]"},"text":{"field":"n"}}}
  ]},
 {"width":162,"height":297,"title":{"text":"(b) passive dynamics","dx":-18},
  "layer":[
   {"data":{"name":"B2"},"mark":{"type":"line","strokeWidth":1.2,"strokeDash":[2,1],"clip":true},
    "encoding":{"x":{"field":"t","type":"quantitative","title":"time [s]","scale":{"domain":[0,0.6],"nice":false},"axis":{"values":[0,0.2,0.4,0.6],"labelExpr":"'' + datum.value"}},
     "y":{"field":"v","type":"quantitative","title":null,"scale":{"domain":[-0.8,0.6],"nice":false},"axis":{"values":[-0.8,-0.6,-0.4,-0.2,0,0.2,0.4,0.6],"tickCount":12,"labelExpr":"'' + round(datum.value*10)/10"}},
     "stroke":{"field":"g","type":"nominal","scale":{"domain":["j","m"],"range":["#8a8a8a","#f47c7c"]},"legend":null}}},
   {"data":{"name":"B1"},"mark":{"type":"line","strokeWidth":2,"clip":true},
    "encoding":{"x":{"field":"t","type":"quantitative","title":"time [s]"},"y":{"field":"v","type":"quantitative","title":null},
     "color":{"field":"s","type":"nominal","scale":{"domain":["m","j"],"range":["#ff0000","#000000"]},"legend":{"title":null,"orient":"none","legendX":40.5,"legendY":239.5,"labelExpr":"datum.label == 'm' ? '\u03d5\u2098\u2092\u209c' : '\u03d5\u2c7c\u2092\u1d62\u2099\u209c'"}}}},
   {"data":{"name":"arrB"},"mark":{"type":"rule","color":"#222","strokeWidth":1},"encoding":{"x":{"field":"a","type":"quantitative","title":"time [s]"},"x2":{"field":"b"},"y":{"field":"y","type":"quantitative","title":null}}},
   {"data":{"name":"arrB"},"mark":{"type":"point","shape":"triangle-left","filled":true,"color":"#222","size":30,"opacity":1,"xOffset":3},"encoding":{"x":{"field":"a","type":"quantitative","title":"time [s]"},"y":{"field":"y","type":"quantitative","title":null}}},
   {"data":{"name":"arrB"},"mark":{"type":"point","shape":"triangle-right","filled":true,"color":"#222","size":30,"opacity":1,"xOffset":-3},"encoding":{"x":{"field":"b","type":"quantitative","title":"time [s]"},"y":{"field":"y","type":"quantitative","title":null}}},
   {"data":{"name":"arrB"},"mark":{"type":"text","font":"DejaVu Sans","fontSize":11,"color":"#333","baseline":"alphabetic","dy":-2},"encoding":{"x":{"field":"m","type":"quantitative","title":"time [s]"},"y":{"field":"y","type":"quantitative","title":null},"text":{"field":"n"}}}
  ]},
 {"width":163,"height":297,"title":{"text":"(c) pure feedback","dx":-20},
  "layer":[
   {"data":{"name":"C2"},"mark":{"type":"line","strokeWidth":1.2,"strokeDash":[2,1],"clip":true},
    "encoding":{"x":{"field":"t","type":"quantitative","title":"time [s]","scale":{"domain":[0,0.6],"nice":false},"axis":{"values":[0,0.2,0.4,0.6],"labelExpr":"'' + datum.value"}},
     "y":{"field":"v","type":"quantitative","title":"angle [rad]","scale":{"domain":[-0.8,0.6],"nice":false},"axis":{"values":[-0.8,-0.6,-0.4,-0.2,0,0.2,0.4,0.6],"tickCount":12,"labelExpr":"'' + round(datum.value*10)/10"}},
     "stroke":{"field":"g","type":"nominal","scale":{"domain":["j","m"],"range":["#8a8a8a","#f47c7c"]},"legend":null}}},
   {"data":{"name":"C1"},"mark":{"type":"line","strokeWidth":2,"clip":true},
    "encoding":{"x":{"field":"t","type":"quantitative","title":"time [s]"},"y":{"field":"v","type":"quantitative","title":"angle [rad]"},
     "color":{"field":"s","type":"nominal","scale":{"domain":["m","j"],"range":["#ff0000","#000000"]},"legend":{"title":null,"orient":"none","legendX":44,"legendY":239.5,"labelExpr":"datum.label == 'm' ? '\u03d5\u2098\u2092\u209c' : '\u03d5\u2c7c\u2092\u1d62\u2099\u209c'"}}}},
   {"data":{"name":"arrC"},"mark":{"type":"rule","color":"#222","strokeWidth":1},"encoding":{"x":{"field":"a","type":"quantitative","title":"time [s]"},"x2":{"field":"b"},"y":{"field":"y","type":"quantitative","title":"angle [rad]"}}},
   {"data":{"name":"arrC"},"mark":{"type":"point","shape":"triangle-left","filled":true,"color":"#222","size":30,"opacity":1,"xOffset":3},"encoding":{"x":{"field":"a","type":"quantitative","title":"time [s]"},"y":{"field":"y","type":"quantitative","title":"angle [rad]"}}},
   {"data":{"name":"arrC"},"mark":{"type":"point","shape":"triangle-right","filled":true,"color":"#222","size":30,"opacity":1,"xOffset":-3},"encoding":{"x":{"field":"b","type":"quantitative","title":"time [s]"},"y":{"field":"y","type":"quantitative","title":"angle [rad]"}}},
   {"data":{"name":"arrC"},"mark":{"type":"text","font":"DejaVu Sans","fontSize":11,"color":"#333","baseline":"alphabetic","dy":-2},"encoding":{"x":{"field":"m","type":"quantitative","title":"time [s]"},"y":{"field":"y","type":"quantitative","title":"angle [rad]"},"text":{"field":"n"}}}
  ]}
 ],"spacing":61.5,"bounds":"flush","resolve":{"scale":{"color":"independent","stroke":"independent"},"legend":{"color":"independent","stroke":"independent"}}},
{"hconcat":[
 {"width":112,"height":297,"title":{"text":"(d) simulation","dx":-20},
  "layer":[
   {"data":{"name":"D2"},"mark":{"type":"line","strokeWidth":1.2,"strokeDash":[2,1],"clip":true},
    "encoding":{"x":{"field":"t","type":"quantitative","title":"time [s]","scale":{"domain":[0,0.42],"nice":false},"axis":{"values":[0,0.2,0.4],"labelExpr":"'' + datum.value"}},
     "y":{"field":"v","type":"quantitative","title":"power [W]","scale":{"domain":[-80,100],"nice":false},"axis":{"values":[-80,-60,-40,-20,0,20,40,60,80,100],"tickCount":12,"labelExpr":"'' + datum.value"}},
     "stroke":{"field":"g","type":"nominal","scale":{"domain":["j","m"],"range":["#555555","#f47c7c"]},"legend":null}}},
   {"data":{"name":"D1"},"mark":{"type":"line","strokeWidth":2,"clip":true},
    "encoding":{"x":{"field":"t","type":"quantitative","title":"time [s]"},"y":{"field":"v","type":"quantitative","title":"power [W]"},
     "color":{"field":"s","type":"nominal","scale":{"domain":["m","j"],"range":["#ff0000","#000000"]},"legend":{"title":null,"orient":"none","legendX":1,"legendY":252,"rowPadding":0,"labelFontSize":16,"labelExpr":"datum.label == 'm' ? 'P\u2098\u2092\u209c\u2092\u1d63' : 'P\u2c7c\u2092\u1d62\u2099\u209c'"}}}},
   {"data":{"name":"arrD"},"mark":{"type":"rule","color":"#222","strokeWidth":1},"encoding":{"x":{"field":"a","type":"quantitative","title":"time [s]"},"x2":{"field":"b"},"y":{"field":"y","type":"quantitative","title":"power [W]"}}},
   {"data":{"name":"arrD"},"mark":{"type":"point","shape":"triangle-left","filled":true,"color":"#222","size":30,"opacity":1,"xOffset":3},"encoding":{"x":{"field":"a","type":"quantitative","title":"time [s]"},"y":{"field":"y","type":"quantitative","title":"power [W]"}}},
   {"data":{"name":"arrD"},"mark":{"type":"point","shape":"triangle-right","filled":true,"color":"#222","size":30,"opacity":1,"xOffset":-3},"encoding":{"x":{"field":"b","type":"quantitative","title":"time [s]"},"y":{"field":"y","type":"quantitative","title":"power [W]"}}},
   {"data":{"name":"arrD"},"mark":{"type":"text","font":"DejaVu Sans","fontSize":11,"color":"#333","baseline":"alphabetic","dy":-2},"encoding":{"x":{"field":"m","type":"quantitative","title":"time [s]"},"y":{"field":"y","type":"quantitative","title":"power [W]"},"text":{"field":"n"}}}
  ]},
 {"width":162,"height":297,"title":{"text":"(e) passive dynamics","dx":-17},
  "layer":[
   {"data":{"name":"zero"},"mark":{"type":"rule","color":"#000","strokeWidth":1},"encoding":{"y":{"field":"z","type":"quantitative","title":null,"scale":{"domain":[-80,100],"nice":false},"axis":{"values":[-80,-60,-40,-20,0,20,40,60,80,100],"tickCount":12,"labelExpr":"'' + datum.value"}}}},
   {"data":{"name":"E2"},"mark":{"type":"line","strokeWidth":1.2,"strokeDash":[2,1],"clip":true},
    "encoding":{"x":{"field":"t","type":"quantitative","title":"time [s]","scale":{"domain":[0,0.6],"nice":false},"axis":{"values":[0,0.2,0.4,0.6],"labelExpr":"'' + datum.value"}},
     "y":{"field":"v","type":"quantitative","title":null},
     "stroke":{"field":"g","type":"nominal","scale":{"domain":["j","m"],"range":["#8a8a8a","#f47c7c"]},"legend":null}}},
   {"data":{"name":"E1"},"mark":{"type":"line","strokeWidth":2,"clip":true},
    "encoding":{"x":{"field":"t","type":"quantitative","title":"time [s]"},"y":{"field":"v","type":"quantitative","title":null},
     "color":{"field":"s","type":"nominal","scale":{"domain":["m","j"],"range":["#ff0000","#000000"]},"legend":{"title":null,"orient":"none","legendX":45,"legendY":253,"rowPadding":0,"labelFontSize":16,"labelExpr":"datum.label == 'm' ? 'P\u2098\u2092\u209c\u2092\u1d63' : 'P\u2c7c\u2092\u1d62\u2099\u209c'"}}}},
   {"data":{"name":"arrE"},"mark":{"type":"rule","color":"#222","strokeWidth":1},"encoding":{"x":{"field":"a","type":"quantitative","title":"time [s]"},"x2":{"field":"b"},"y":{"field":"y","type":"quantitative","title":null}}},
   {"data":{"name":"arrE"},"mark":{"type":"point","shape":"triangle-left","filled":true,"color":"#222","size":30,"opacity":1,"xOffset":3},"encoding":{"x":{"field":"a","type":"quantitative","title":"time [s]"},"y":{"field":"y","type":"quantitative","title":null}}},
   {"data":{"name":"arrE"},"mark":{"type":"point","shape":"triangle-right","filled":true,"color":"#222","size":30,"opacity":1,"xOffset":-3},"encoding":{"x":{"field":"b","type":"quantitative","title":"time [s]"},"y":{"field":"y","type":"quantitative","title":null}}},
   {"data":{"name":"arrE"},"mark":{"type":"text","font":"DejaVu Sans","fontSize":11,"color":"#333","baseline":"alphabetic","dy":-2},"encoding":{"x":{"field":"m","type":"quantitative","title":"time [s]"},"y":{"field":"y","type":"quantitative","title":null},"text":{"field":"n"}}}
  ]},
 {"width":163,"height":297,"title":{"text":"(f) pure feedback","dx":-18},
  "layer":[
   {"data":{"name":"zero"},"mark":{"type":"rule","color":"#000","strokeWidth":1},"encoding":{"y":{"field":"z","type":"quantitative","title":"power [W]","scale":{"domain":[-80,100],"nice":false},"axis":{"values":[-80,-60,-40,-20,0,20,40,60,80,100],"tickCount":12,"labelExpr":"'' + datum.value"}}}},
   {"data":{"name":"F2"},"mark":{"type":"line","strokeWidth":1.2,"strokeDash":[2,1],"clip":true},
    "encoding":{"x":{"field":"t","type":"quantitative","title":"time [s]","scale":{"domain":[0,0.6],"nice":false},"axis":{"values":[0,0.2,0.4,0.6],"labelExpr":"'' + datum.value"}},
     "y":{"field":"v","type":"quantitative","title":"power [W]"},
     "stroke":{"field":"g","type":"nominal","scale":{"domain":["j","m"],"range":["#8a8a8a","#f47c7c"]},"legend":null}}},
   {"data":{"name":"F1"},"mark":{"type":"line","strokeWidth":2,"clip":true},
    "encoding":{"x":{"field":"t","type":"quantitative","title":"time [s]"},"y":{"field":"v","type":"quantitative","title":"power [W]"},
     "color":{"field":"s","type":"nominal","scale":{"domain":["m","j"],"range":["#ff0000","#000000"]},"legend":{"title":null,"orient":"none","legendX":46,"legendY":253,"rowPadding":0,"labelFontSize":16,"labelExpr":"datum.label == 'm' ? 'P\u2098\u2092\u209c\u2092\u1d63' : 'P\u2c7c\u2092\u1d62\u2099\u209c'"}}}},
   {"data":{"name":"arrF"},"mark":{"type":"rule","color":"#222","strokeWidth":1},"encoding":{"x":{"field":"a","type":"quantitative","title":"time [s]"},"x2":{"field":"b"},"y":{"field":"y","type":"quantitative","title":"power [W]"}}},
   {"data":{"name":"arrF"},"mark":{"type":"point","shape":"triangle-left","filled":true,"color":"#222","size":30,"opacity":1,"xOffset":3},"encoding":{"x":{"field":"a","type":"quantitative","title":"time [s]"},"y":{"field":"y","type":"quantitative","title":"power [W]"}}},
   {"data":{"name":"arrF"},"mark":{"type":"point","shape":"triangle-right","filled":true,"color":"#222","size":30,"opacity":1,"xOffset":-3},"encoding":{"x":{"field":"b","type":"quantitative","title":"time [s]"},"y":{"field":"y","type":"quantitative","title":"power [W]"}}},
   {"data":{"name":"arrF"},"mark":{"type":"text","font":"DejaVu Sans","fontSize":11,"color":"#333","baseline":"alphabetic","dy":-2},"encoding":{"x":{"field":"m","type":"quantitative","title":"time [s]"},"y":{"field":"y","type":"quantitative","title":"power [W]"},"text":{"field":"n"}}}
  ]}
 ],"spacing":59,"bounds":"flush","resolve":{"scale":{"color":"independent","stroke":"independent"},"legend":{"color":"independent","stroke":"independent"}}}
]
}
